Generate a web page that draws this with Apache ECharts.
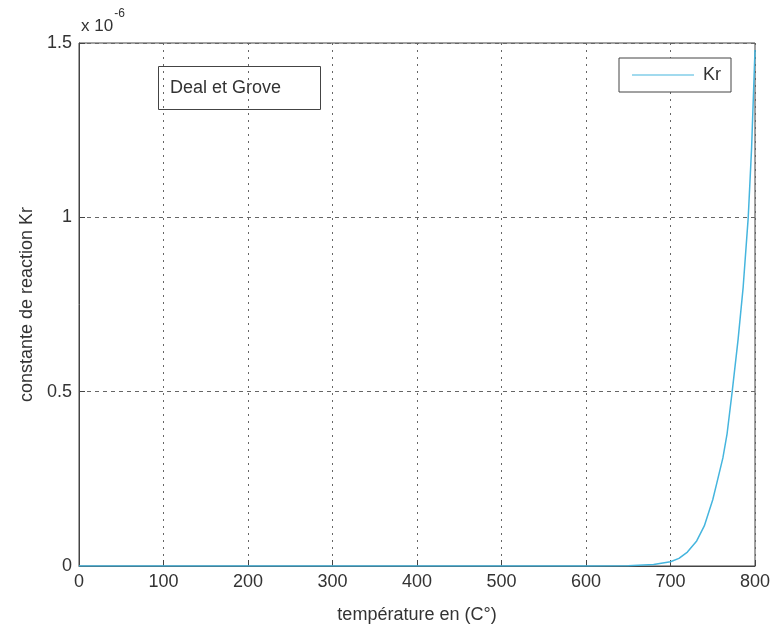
<!DOCTYPE html>
<html>
<head>
<meta charset="utf-8">
<script src="https://cdn.jsdelivr.net/npm/echarts@6/dist/echarts.min.js"></script>
<style>
  html, body { margin: 0; padding: 0; background: #fff; }
  #chart { width: 774px; height: 629px; }
</style>
</head>
<body>
<div id="chart"></div>
<script>
// temperature (C°) and Kr in units of 1e-6
const temps = [0, 100, 200, 300, 400, 500, 600, 650, 680, 700, 710, 720, 731, 740, 750, 755, 762, 767, 773, 780, 786, 792, 796, 800];
const kr = [0, 0, 0, 0, 0, 0, 0, 0.001, 0.004, 0.012, 0.022, 0.04, 0.072, 0.115, 0.19, 0.24, 0.31, 0.38, 0.5, 0.65, 0.8, 1.0, 1.2, 1.48];
const xTicks = [0, 100, 200, 300, 400, 500, 600, 700, 800];
const yTicks = [0, 0.5, 1, 1.5];

const font = 'Liberation Sans, Arial, sans-serif';
const chart = echarts.init(document.getElementById('chart'));

chart.setOption({
    backgroundColor: '#fff',
    animation: false,
    grid: {
        left: 79,
        right: 19,
        top: 43,
        bottom: 62,
        show: true,
        borderColor: '#444',
        borderWidth: 1,
        backgroundColor: 'transparent'
    },
    title: {
        text: 'Deal et Grove',
        left: 158,
        top: 66,
        borderColor: '#444',
        borderWidth: 1,
        padding: [13, 40, 13, 12],
        textStyle: {
            fontFamily: font,
            fontSize: 18,
            fontWeight: 'normal',
            color: '#333'
        }
    },
    legend: {
        right: 43,
        top: 58,
        data: [{ name: 'Kr', icon: 'rect' }],
        itemWidth: 62,
        itemHeight: 1,
        borderColor: '#444',
        borderWidth: 1,
        backgroundColor: '#fff',
        padding: [8, 10, 8, 13],
        textStyle: {
            fontFamily: font,
            fontSize: 18,
            color: '#333',
            padding: [0, 0, 0, 4]
        }
    },
    graphic: [
        {
            type: 'text',
            left: 81,
            top: 8,
            style: {
                text: '{a|x 10}{b|-6}',
                rich: {
                    a: { fontFamily: font, fontSize: 17, fill: '#333', verticalAlign: 'bottom', padding: [10, 0, 0, 0] },
                    b: { fontFamily: font, fontSize: 12, fill: '#333', verticalAlign: 'top', padding: [0, 0, 10, 1] }
                }
            }
        }
    ],
    xAxis: {
        type: 'value',
        min: 0,
        max: 800,
        interval: 100,
        name: 'température en (C°)',
        nameLocation: 'middle',
        nameGap: 40,
        nameTextStyle: { fontFamily: font, fontSize: 18, color: '#333' },
        axisLine: { show: true, lineStyle: { color: '#444' } },
        axisTick: { show: true, inside: true, length: 6, lineStyle: { color: '#444' } },
        axisLabel: {
            fontFamily: font, fontSize: 18, color: '#333', margin: 7,
            formatter: v => xTicks.includes(v) ? String(v) : ''
        },
        splitLine: { show: true, lineStyle: { color: '#666', type: [2, 5] } }
    },
    yAxis: {
        type: 'value',
        min: 0,
        max: 1.5,
        interval: 0.5,
        name: 'constante de reaction Kr',
        nameLocation: 'middle',
        nameGap: 41,
        nameRotate: 90,
        nameTextStyle: { fontFamily: font, fontSize: 18, color: '#333' },
        axisLine: { show: true, lineStyle: { color: '#444' } },
        axisTick: { show: true, inside: true, length: 6, lineStyle: { color: '#444' } },
        axisLabel: {
            fontFamily: font, fontSize: 18, color: '#333', margin: 7,
            formatter: v => yTicks.includes(v) ? String(v) : ''
        },
        splitLine: { show: true, lineStyle: { color: '#666', type: [4, 4] } }
    },
    series: [
        {
            name: 'Kr',
            type: 'line',
            showSymbol: false,
            symbol: 'none',
            smooth: false,
            itemStyle: { color: '#45b5de' },
            lineStyle: { color: '#45b5de', width: 1.5 },
            data: temps.map((t, i) => [t, kr[i]])
        }
    ]
});
</script>
</body>
</html>
